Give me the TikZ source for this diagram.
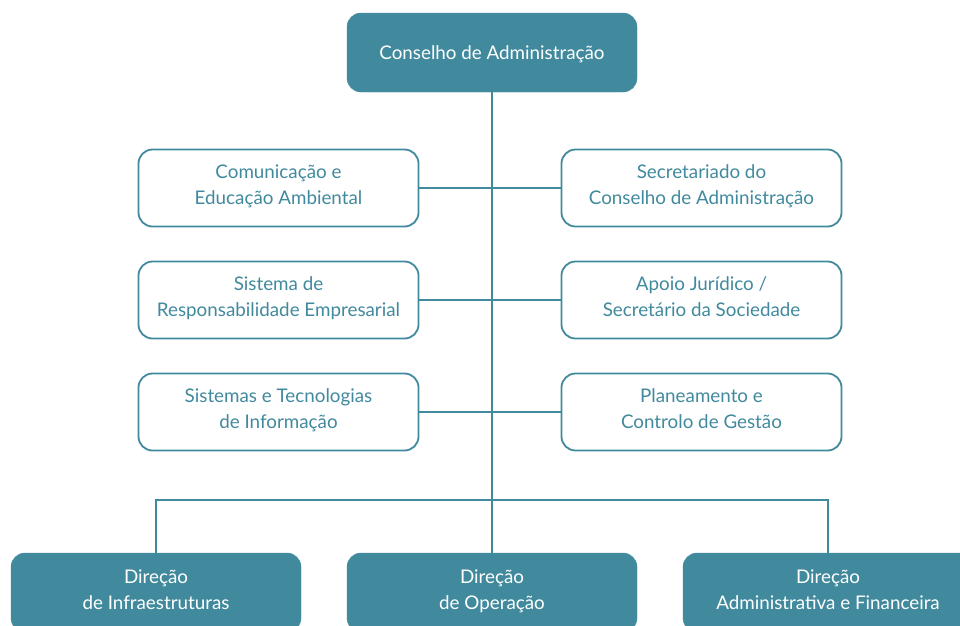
\documentclass[tikz,border=0pt]{standalone}
\usepackage{fontspec}
\setmainfont{Lato}
\usepackage{tikz}
\usetikzlibrary{positioning}
\definecolor{teal1}{HTML}{418A9E}
\newcommand{\topstrut}{\rule{0pt}{34pt}}
\newcommand{\onestrut}{\rule{0pt}{19pt}}
\newcommand{\botstrut}{\rule[-6pt]{0pt}{0pt}}
\tikzset{>=latex}
\tikzset{boxtext/.style = {align=center, font=\fontsize{18.8}{26}\selectfont}}
\tikzset{twoline/.style = {execute at begin node=\topstrut, execute at end node=\botstrut}}
\tikzset{oneline/.style = {execute at begin node=\onestrut, execute at end node=\botstrut}}
\tikzset{dirbox/.style = {rectangle, rounded corners=14pt, fill=teal1, draw=teal1, text=white, minimum width=290pt, minimum height=79pt, boxtext}}
\tikzset{unitbox/.style = {rectangle, rounded corners=14pt, fill=white, draw=teal1, line width=1.8pt, text=teal1, minimum width=280pt, minimum height=77pt, boxtext, twoline}}
\tikzset{link/.style = {-, draw=teal1, line width=1.8pt}}

\begin{document}
\begin{tikzpicture}[x=1pt, y=-1pt]
\clip (0,0) rectangle (960,625);
\useasboundingbox (0,0) rectangle (960,625);
\fill[white] (0,0) rectangle (960,625);
\node [dirbox, oneline] (CA) at (492, 52.5) {Conselho de Administração};
\node [unitbox] (CEA) at (278.5, 188) {Comunicação e\\Educação Ambiental};
\node [unitbox] (SRE) at (278.5, 300) {Sistema de\\Responsabilidade Empresarial};
\node [unitbox] (STI) at (278.5, 412) {Sistemas e Tecnologias\\de Informação};
\node [unitbox] (SCA) at (701.5, 188) {Secretariado do\\Conselho de Administração};
\node [unitbox] (AJ) at (701.5, 300) {Apoio Jurídico /\\Secretário da Sociedade};
\node [unitbox] (PCG) at (701.5, 412) {Planeamento e\\Controlo de Gestão};
\node [dirbox, twoline] (DI) at (156, 592.5) {Direção\\de Infraestruturas};
\node [dirbox, twoline] (DO) at (492, 592.5) {Direção\\de Operação};
\node [dirbox, twoline] (DAF) at (828, 592.5) {Direção\\Administrativa e Financeira};
\coordinate (busL) at (156, 500);
\coordinate (busR) at (828, 500);
% connectors
\draw [link] (CA) to (DO);
\draw [link] (CEA) to (SCA);
\draw [link] (SRE) to (AJ);
\draw [link] (STI) to (PCG);
\draw [link] (DI) to (busL) to (busR) to (DAF);
\end{tikzpicture}
\end{document}
